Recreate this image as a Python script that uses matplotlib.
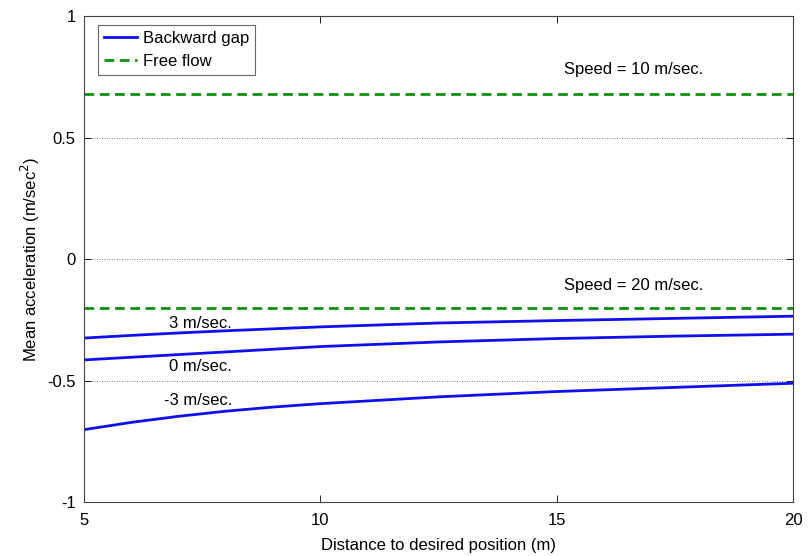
import matplotlib.pyplot as plt
import numpy as np

plt.rcParams['font.family'] = ['Liberation Sans', 'DejaVu Sans']

# distance to desired position (m)
dist = [5, 6, 7, 8, 9, 10, 12.5, 15, 17.5, 20]
# backward gap curves, by relative speed
gap_pos3 = [-0.325, -0.314, -0.304, -0.295, -0.287, -0.279, -0.263, -0.253, -0.244, -0.235]
gap_zero = [-0.415, -0.404, -0.393, -0.382, -0.371, -0.360, -0.341, -0.327, -0.317, -0.309]
gap_neg3 = [-0.702, -0.672, -0.647, -0.626, -0.609, -0.595, -0.567, -0.545, -0.528, -0.511]
# free flow levels
free_10 = 0.68
free_20 = -0.20

fig = plt.figure(figsize=(8.1, 5.56), dpi=100)
ax = fig.add_axes([0.1037, 0.097, 0.8753, 0.874])

blue = '#1010ee'
green = '#109010'

ax.plot(dist, gap_pos3, color=blue, lw=2, label='Backward gap')
ax.plot(dist, gap_zero, color=blue, lw=2)
ax.plot(dist, gap_neg3, color=blue, lw=2)
ax.axhline(free_10, color=green, lw=2, ls=(0, (3.5, 2)), label='Free flow')
ax.axhline(free_20, color=green, lw=2, ls=(0, (3.5, 2)))

#=============labels on the curves====================
fs = 12
ax.text(6.8, -0.266, '3 m/sec.', fontsize=fs, va='center')
ax.text(6.8, -0.443, '0 m/sec.', fontsize=fs, va='center')
ax.text(6.7, -0.582, '-3 m/sec.', fontsize=fs, va='center')
ax.text(15.15, 0.78, 'Speed = 10 m/sec.', fontsize=fs, va='center')
ax.text(15.15, -0.11, 'Speed = 20 m/sec.', fontsize=fs, va='center')

ax.set_xlim(5, 20)
ax.set_ylim(-1, 1)
ax.set_xticks([5, 10, 15, 20])
ax.set_yticks([-1, -0.5, 0, 0.5, 1])
ax.set_yticklabels(['-1', '-0.5', '0', '0.5', '1'])
for yg in [-0.5, 0, 0.5]:
    ax.axhline(yg, color='#555555', lw=0.6, ls=(0, (1, 2)), zorder=0)
ax.tick_params(direction='in', labelsize=fs, length=5, width=0.6, top=True, right=True)
ax.tick_params(axis='x', pad=8)
ax.tick_params(axis='y', pad=6)
for s in ax.spines.values():
    s.set_linewidth(0.8)
    s.set_color('#444444')

ax.set_xlabel('Distance to desired position (m)', fontsize=fs, labelpad=7)
ax.set_ylabel('Mean acceleration (m/sec$^2$)', fontsize=fs)

leg = ax.legend(loc='upper left', bbox_to_anchor=(0.0197, 0.981), fontsize=fs,
                fancybox=False, edgecolor='#444444', handlelength=2.0,
                borderpad=0.35, labelspacing=0.45, handletextpad=0.35,
                borderaxespad=0)
leg.get_frame().set_linewidth(0.8)

fig.savefig('out.png', dpi=100)
